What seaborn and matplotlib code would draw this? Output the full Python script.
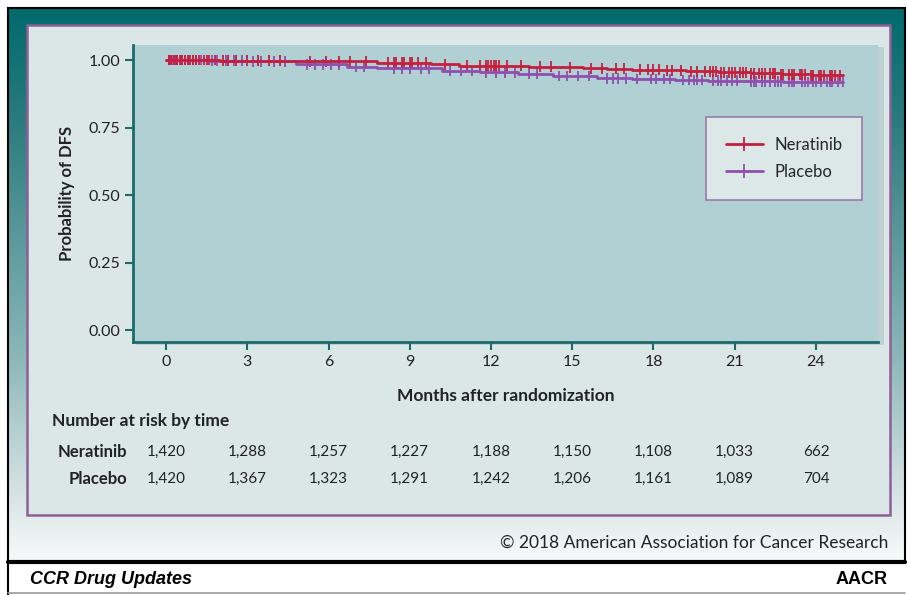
from matplotlib import pyplot as plt
from matplotlib.colors import LinearSegmentedColormap
from matplotlib.lines import Line2D
from matplotlib.patches import Rectangle
import matplotlib.transforms as mtransforms
import numpy as np
import pandas as pd
import seaborn as sns

sns.set_theme(style="white")
plt.rcParams["font.family"] = ["Lato", "DejaVu Sans"]

# BLOCK: data
arms = ["Neratinib", "Placebo"]
colors = {"Neratinib": "#c41f3e", "Placebo": "#8f4fae"}

ner_t = [0, 2.0, 4.5, 7.8, 9.8, 10.8, 12.4, 13.4, 14.6, 15.4, 16.3, 17.2, 18.3, 19.2, 20.4, 21.6, 22.7, 23.8, 25.0]
ner_s = [1.0, 0.998, 0.995, 0.990, 0.985, 0.980, 0.979, 0.976, 0.973, 0.970, 0.968, 0.965, 0.962, 0.959, 0.955, 0.951, 0.947, 0.944, 0.944]

pla_t = [0, 1.5, 3.0, 4.8, 6.7, 7.8, 10.2, 11.6, 13.0, 14.3, 15.9, 17.2, 18.8, 20.0, 21.4, 22.8, 25.0]
pla_s = [1.0, 0.998, 0.995, 0.985, 0.975, 0.969, 0.960, 0.955, 0.950, 0.941, 0.933, 0.930, 0.926, 0.924, 0.921, 0.919, 0.919]

ner_cens = [0.1, 0.15, 0.2, 0.3, 0.35, 0.4, 0.5, 0.6, 0.7, 0.8, 0.9, 1.0, 1.1, 1.2, 1.4, 1.5, 1.6, 1.8,
            2.1, 2.3, 2.6, 3.0, 3.4, 3.8, 4.2, 5.3, 5.9, 6.4, 6.8, 7.4, 8.2, 8.4, 8.5, 8.7, 8.8, 9.0,
            9.1, 9.3, 9.6, 10.3, 11.1, 11.6, 11.8, 11.9, 12.0, 12.1, 12.2, 12.3, 12.6, 13.1, 13.8,
            14.2, 14.9, 15.7, 16.1, 16.6, 16.9, 17.5, 17.8, 18.0, 18.2, 18.5, 18.7, 19.0, 19.4, 19.6,
            19.9, 20.1, 20.2, 20.3, 20.5, 20.6, 20.8, 20.9, 21.0, 21.2, 21.3, 21.4, 21.6, 21.7, 21.9,
            22.0, 22.1, 22.3, 22.4, 22.5, 22.7, 22.8, 23.0, 23.1, 23.2, 23.4, 23.5, 23.6, 23.8, 23.9,
            24.1, 24.2, 24.3, 24.5, 24.6, 24.7, 24.9]
pla_cens = [0.1, 0.2, 0.25, 0.3, 0.4, 0.5, 0.6, 0.7, 0.8, 1.0, 1.1, 1.3, 1.7, 1.9, 2.2, 2.5, 2.8, 3.2,
            3.5, 4.0, 4.4, 5.2, 5.5, 5.8, 6.1, 6.4, 7.0, 7.3, 8.4, 8.7, 9.0, 9.4, 9.7, 10.5, 10.9,
            11.3, 11.8, 12.2, 12.5, 12.9, 13.4, 13.7, 14.5, 14.8, 15.2, 15.6, 16.3, 16.5, 16.7, 17.0,
            17.4, 17.9, 18.1, 18.4, 18.6, 19.1, 19.3, 19.5, 19.6, 19.8, 20.2, 20.4, 20.5, 20.7, 20.9,
            21.1, 21.6, 21.7, 21.8, 22.0, 22.1, 22.3, 22.5, 22.6, 22.7, 23.0, 23.1, 23.2, 23.5, 23.6,
            23.7, 23.9, 24.0, 24.2, 24.4, 24.5, 24.6, 24.8, 25.0]

risk_times = [0, 3, 6, 9, 12, 15, 18, 21, 24]
risk_ner = ["1,420", "1,288", "1,257", "1,227", "1,188", "1,150", "1,108", "1,033", "662"]
risk_pla = ["1,420", "1,367", "1,323", "1,291", "1,242", "1,206", "1,161", "1,089", "704"]

# placebo first so the neratinib curve is drawn on top
curves = pd.concat([
    pd.DataFrame({"t": pla_t, "s": pla_s, "arm": "Placebo"}),
    pd.DataFrame({"t": ner_t, "s": ner_s, "arm": "Neratinib"}),
])


def surv_at(times, ts, ss):
    idx = np.searchsorted(ts, times, side="right") - 1
    return np.array(ss)[idx]


cens = pd.concat([
    pd.DataFrame({"t": pla_cens, "s": surv_at(pla_cens, pla_t, pla_s), "arm": "Placebo"}),
    pd.DataFrame({"t": ner_cens, "s": surv_at(ner_cens, ner_t, ner_s), "arm": "Neratinib"}),
])

W, H = 907, 595


def fx(x):
    return x / W


def fy(y):
    return 1 - y / H


fig = plt.figure(figsize=(9.07, 5.95), dpi=100, facecolor="white")

# BLOCK: frame and panels
bg = fig.add_axes([fx(8), fy(562), (905 - 8) / W, (562 - 8) / H], zorder=-10)
cmap = LinearSegmentedColormap.from_list(
    "frame", [(0, "#006a6d"), (0.2, "#2a7b7e"), (0.63, "#8cb7b9"), (0.9, "#dde7e7"), (1.0, "#f8fafa")])
bg.imshow(np.linspace(0, 1, 256)[:, None], aspect="auto", cmap=cmap, extent=[0, 1, 0, 1])
bg.set_axis_off()

fig.patches.append(Rectangle((fx(27), fy(515)), (890 - 27) / W, (515 - 25) / H, transform=fig.transFigure,
                             facecolor="#dbe7e7", edgecolor="#8e5f95", linewidth=1.8, zorder=-5))
fig.patches.append(Rectangle((fx(136), fy(345)), 748 / W, 298 / H, transform=fig.transFigure,
                             facecolor="#9fb4b6", edgecolor="none", alpha=0.45, zorder=-4))
fig.patches.append(Rectangle((fx(8), fy(562)), 897 / W, 554 / H, transform=fig.transFigure,
                             facecolor="none", edgecolor="black", linewidth=1.5, zorder=-3))
fig.lines.append(Line2D([fx(8), fx(905)], [fy(562), fy(562)], transform=fig.transFigure, color="black", lw=3))
fig.lines.append(Line2D([fx(8), fx(8)], [fy(562), fy(595)], transform=fig.transFigure, color="black", lw=1.5))
fig.lines.append(Line2D([fx(8), fx(905)], [fy(593), fy(593)], transform=fig.transFigure, color="#999999", lw=1.2))

# BLOCK: KM plot
ax = fig.add_axes([fx(133), fy(342), 745 / W, 297 / H])
ax.set_facecolor("#b1d0d3")

sns.lineplot(data=curves, x="t", y="s", hue="arm", hue_order=["Placebo", "Neratinib"], palette=colors,
             drawstyle="steps-post", estimator=None, linewidth=2, legend=False, ax=ax)
sns.scatterplot(data=cens, x="t", y="s", hue="arm", palette=colors, marker="|", s=60,
                linewidth=1.3, legend=False, ax=ax)

ax.set_xlim(-1.22, 26.29)
ax.set_ylim(-0.044, 1.056)
ax.set_xticks(risk_times)
ax.set_yticks([0, 0.25, 0.5, 0.75, 1.0])
ax.set_yticklabels(["0.00", "0.25", "0.50", "0.75", "1.00"])
for side in ["top", "right"]:
    ax.spines[side].set_visible(False)
for side in ["left", "bottom"]:
    ax.spines[side].set_color("#1c6a6a")
    ax.spines[side].set_linewidth(2)
ax.tick_params(direction="out", length=6, width=1.5, color="#1c6a6a", labelsize=11.5,
               labelcolor="#222222", left=True, bottom=True, pad=3)

ax.set_xlabel("Months after randomization", fontsize=12.5, fontweight="bold", color="#222222", labelpad=14)
ax.set_ylabel("Probability of DFS", fontsize=12, fontweight="bold", color="#222222", labelpad=10)

handles = [Line2D([], [], color=colors[a], lw=2, marker="|", markersize=10, markeredgewidth=1.3) for a in arms]
leg = ax.legend(handles, arms, loc="upper left", bbox_to_anchor=(0.769, 0.758), borderaxespad=0,
                fontsize=12, frameon=True, fancybox=False, framealpha=1, facecolor="#dce8e8",
                edgecolor="#9b7aa8", handlelength=2.2, numpoints=1, borderpad=1.2, labelspacing=0.65,
                handletextpad=0.7)
leg.get_frame().set_linewidth(1.2)

# BLOCK: number at risk
trans = mtransforms.blended_transform_factory(ax.transData, fig.transFigure)
fig.text(fx(52), fy(421), "Number at risk by time", fontsize=12.5, fontweight="bold", color="#222222", va="center")
fig.text(fx(127), fy(452), "Neratinib", fontsize=12, fontweight="bold", color="#222222", va="center", ha="right")
fig.text(fx(127), fy(479), "Placebo", fontsize=12, fontweight="bold", color="#222222", va="center", ha="right")
for t, a, b in zip(risk_times, risk_ner, risk_pla):
    ax.text(t, fy(452), a, transform=trans, fontsize=11, color="#222222", ha="center", va="center")
    ax.text(t, fy(479), b, transform=trans, fontsize=11, color="#222222", ha="center", va="center")

# BLOCK: credits
fig.text(fx(888), fy(543), "\u00a9 2018 American Association for Cancer Research", fontsize=12.5,
         color="#222222", ha="right", va="center")
fig.text(fx(30), fy(579), "CCR Drug Updates", fontsize=13, fontweight="bold", fontstyle="italic",
         family=["Liberation Sans", "DejaVu Sans"], color="black", va="center")
fig.text(fx(888), fy(579), "AACR", fontsize=13, fontweight="bold", family=["Liberation Sans", "DejaVu Sans"],
         color="black", ha="right", va="center")

plt.savefig("out.png", dpi=100, facecolor="white")
